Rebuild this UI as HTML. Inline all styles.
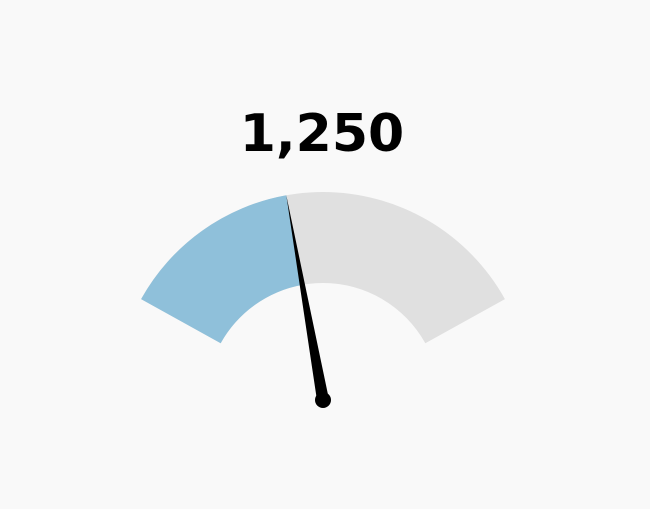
<!DOCTYPE html>
<html><head><meta charset="utf-8"><style>
html,body{margin:0;padding:0;background:#f9f9f9;}
svg{display:block;}
</style></head><body>
<svg width="650" height="509" viewBox="0 0 650 509" xmlns="http://www.w3.org/2000/svg">
<rect width="650" height="509" fill="#f9f9f9"/>
<text id="val" x="322" y="151" text-anchor="middle" font-family="DejaVu Sans, sans-serif" font-weight="bold" font-size="52" fill="#000"></text>
<path id="bg" fill="#e0e0e0"/>
<path id="fg" fill="#8fc0da"/>
<path id="needle" fill="#000"/>
<circle id="hub" r="8" fill="#000"/>
</svg>
<script>
const value = 1250;
const minValue = 0;
const maxValue = 3000;
const cx=323, cy=400, R=208, r=117, half=61;
function ang(v){return (-half + (v-minValue)/(maxValue-minValue)*2*half)*Math.PI/180;}
function pt(a,rad){return [cx+rad*Math.sin(a), cy-rad*Math.cos(a)];}
function arc(a0,a1){
  const p0=pt(a0,R),p1=pt(a1,R),p2=pt(a1,r),p3=pt(a0,r);
  const lg=(a1-a0)>Math.PI?1:0;
  return `M${p0}A${R},${R} 0 ${lg} 1 ${p1}L${p2}A${r},${r} 0 ${lg} 0 ${p3}Z`;
}
const a0=ang(minValue), a1=ang(maxValue), av=ang(value);
document.getElementById('bg').setAttribute('d',arc(a0,a1));
document.getElementById('fg').setAttribute('d',arc(a0,av));
const tip=pt(av,R);
const px=Math.cos(av)*6, py=Math.sin(av)*6;
document.getElementById('needle').setAttribute('d',`M${cx-px},${cy-py}L${tip}L${cx+px},${cy+py}Z`);
const hub=document.getElementById('hub');hub.setAttribute('cx',cx);hub.setAttribute('cy',cy);
document.getElementById('val').textContent=value.toLocaleString('en-US');
</script>
</body></html>
